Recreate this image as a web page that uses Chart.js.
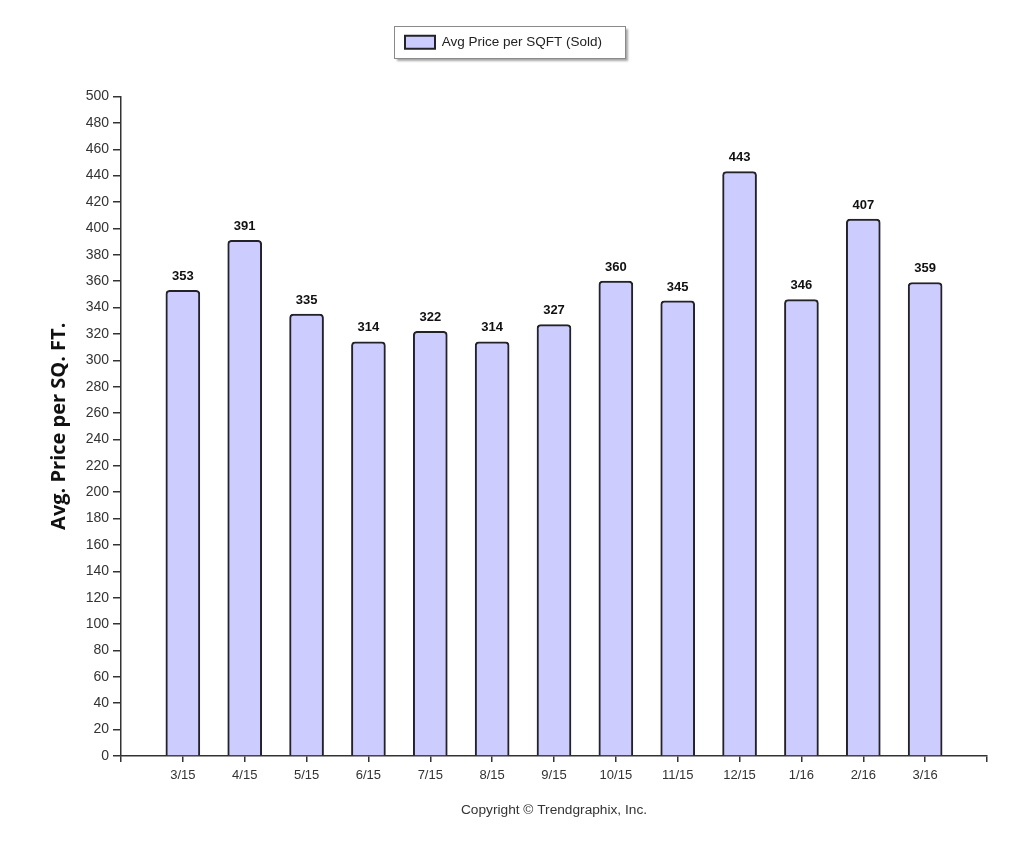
<!DOCTYPE html>
<html>
<head>
<meta charset="utf-8">
<style>
  html, body { margin: 0; padding: 0; background: #fff; }
  #wrap { width: 1024px; height: 853px; position: relative; }
</style>
<script src="https://cdn.jsdelivr.net/npm/chart.js@4.4.1/dist/chart.umd.min.js"></script>
</head>
<body>
<div id="wrap"><canvas id="c" width="1024" height="853"></canvas></div>
<script>
const categories = ['', '3/15', '4/15', '5/15', '6/15', '7/15', '8/15', '9/15', '10/15', '11/15', '12/15', '1/16', '2/16', '3/16', ''];
const avgPriceSold = [null, 353, 391, 335, 314, 322, 314, 327, 360, 345, 443, 346, 407, 359, null];
const seriesLabel = 'Avg Price per SQFT (Sold)';
const yTitle = 'Avg. Price per SQ. FT.';
const copyrightText = 'Copyright \u00A9 Trendgraphix, Inc.';

const AX = '#333333';
const FONT = "'Liberation Sans', Arial, sans-serif";

const valueLabels = {
  id: 'valueLabels',
  afterDatasetsDraw(chart) {
    const ctx = chart.ctx;
    const meta = chart.getDatasetMeta(0);
    ctx.save();
    ctx.font = 'bold 13px ' + FONT;
    ctx.fillStyle = '#111';
    ctx.textAlign = 'center';
    ctx.textBaseline = 'middle';
    meta.data.forEach((el, i) => {
      const v = chart.data.datasets[0].data[i];
      if (v === null || v === undefined) return;
      ctx.fillText(String(v), el.x, el.y - 14);
    });
    ctx.restore();
  }
};

const legendFrame = {
  id: 'legendFrame',
  beforeDraw(chart) {
    const lg = chart.legend;
    if (!lg || !lg.legendHitBoxes || !lg.legendHitBoxes.length) return;
    const hb = lg.legendHitBoxes[0];
    const x = Math.round(hb.left - 11) + 0.5;
    const cy = hb.top + hb.height / 2;
    const y = Math.round(cy - 16) + 0.5;
    const w = Math.round(hb.width + 11 + 23);
    const h = 32;
    const ctx = chart.ctx;
    ctx.save();
    ctx.shadowColor = 'rgba(0,0,0,0.35)';
    ctx.shadowOffsetX = 2;
    ctx.shadowOffsetY = 2;
    ctx.shadowBlur = 2;
    ctx.fillStyle = '#fff';
    ctx.fillRect(x, y, w, h);
    ctx.shadowColor = 'transparent';
    ctx.strokeStyle = '#8a8a8a';
    ctx.lineWidth = 1;
    ctx.strokeRect(x, y, w, h);
    ctx.restore();
  }
};

new Chart(document.getElementById('c'), {
  type: 'bar',
  data: {
    labels: categories,
    datasets: [{
      label: seriesLabel,
      data: avgPriceSold,
      backgroundColor: '#ccccff',
      borderColor: '#222228',
      borderWidth: 2,
      borderSkipped: 'bottom',
      borderRadius: { topLeft: 4, topRight: 4, bottomLeft: 0, bottomRight: 0 },
      barThickness: 34,
      yAxisID: 'y',
      xAxisID: 'x'
    }]
  },
  options: {
    responsive: false,
    animation: false,
    devicePixelRatio: 1,
    layout: { padding: { top: 25.5, left: 0, right: 17, bottom: 0 } },
    plugins: {
      legend: {
        display: true,
        position: 'top',
        labels: {
          boxWidth: 30,
          boxHeight: 13,
          padding: 10,
          color: '#222',
          font: { family: FONT, size: 13.5 }
        }
      },
      title: { display: false },
      tooltip: { enabled: false }
    },
    scales: {
      x: {
        type: 'category',
        position: 'bottom',
        offset: false,
        grid: { display: true, offset: false, drawOnChartArea: false, drawTicks: true, tickLength: 6, color: AX, lineWidth: 1.5 },
        border: { display: true, color: AX, width: 1.5 },
        ticks: { color: '#333', font: { family: FONT, size: 13 }, padding: 6, autoSkip: false, maxRotation: 0 },
        title: {
          display: true,
          text: copyrightText,
          color: '#333',
          font: { family: FONT, size: 13.7, weight: 'normal' },
          padding: { top: 0, bottom: 35 }
        },
        afterFit(s) { s.height = 97; }
      },
      xTop: {
        type: 'linear',
        position: 'top',
        display: true,
        grid: { display: false },
        border: { display: false },
        ticks: { display: false },
        afterFit(s) { s.height = 37.5; }
      },
      y: {
        type: 'linear',
        position: 'left',
        min: 0,
        max: 500,
        ticks: { stepSize: 20, color: '#333', font: { family: FONT, size: 14 }, padding: 4 },
        grid: { display: true, drawOnChartArea: false, drawTicks: true, tickLength: 8, color: AX, lineWidth: 1.5 },
        border: { display: true, color: AX, width: 1.5 },
        title: {
          display: true,
          text: yTitle,
          color: '#111',
          font: { family: "'Open Sans', 'Liberation Sans', sans-serif", size: 20, weight: 'bold' },
          padding: { top: 47, bottom: 0 }
        },
        afterFit(s) { s.width = 121; }
      },
      yRight: {
        type: 'linear',
        position: 'right',
        display: true,
        grid: { display: false },
        border: { display: false },
        ticks: { display: false },
        afterFit(s) { s.width = 20; }
      }
    }
  },
  plugins: [legendFrame, valueLabels]
});
</script>
</body>
</html>
